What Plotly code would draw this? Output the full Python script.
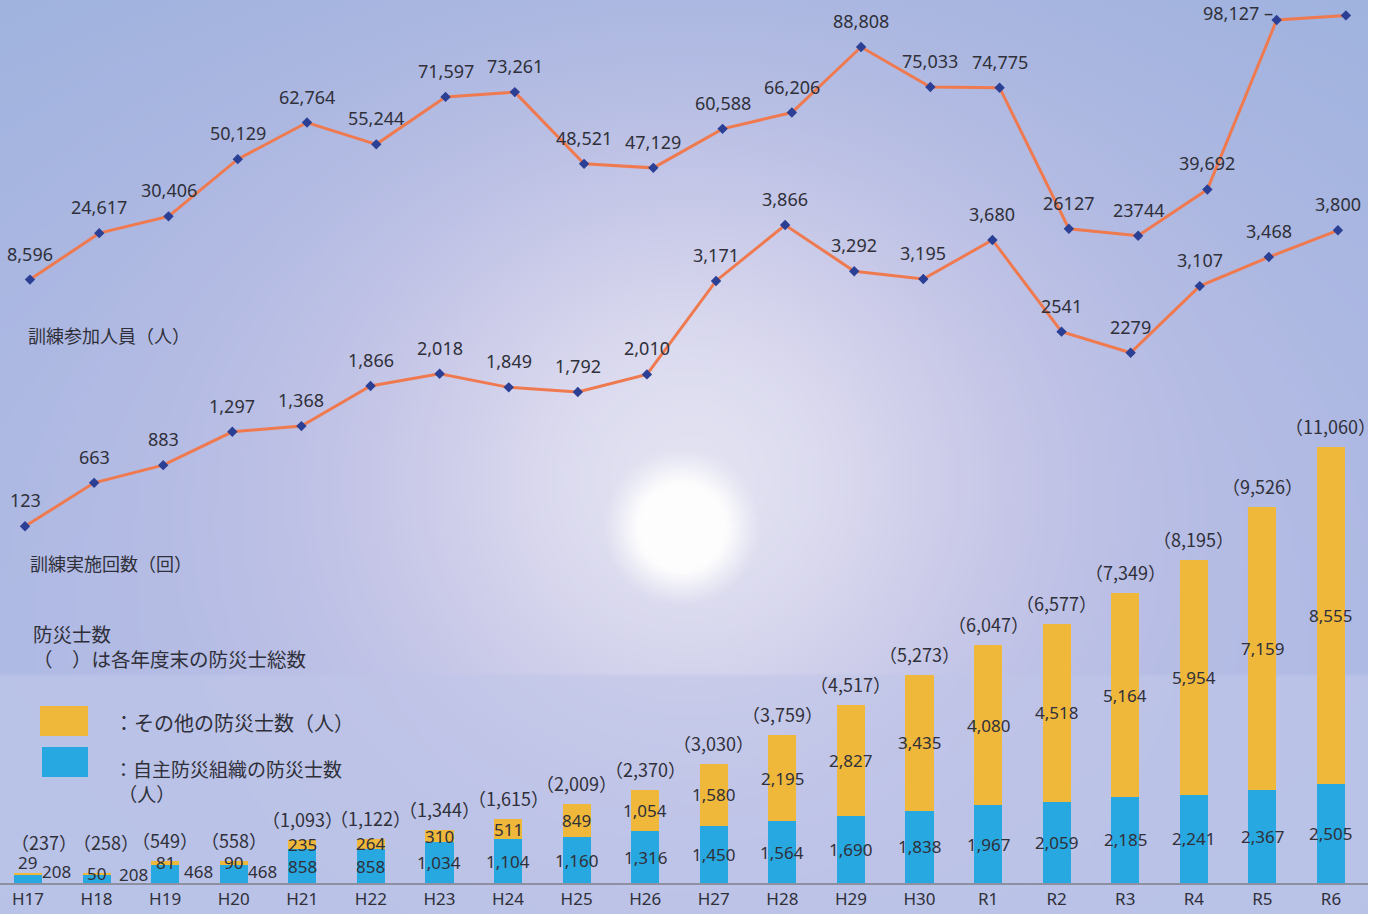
import base64
import struct
import zlib

import numpy as np
import plotly.graph_objects as go

# ---------------- data ----------------
categories = ["H17", "H18", "H19", "H20", "H21", "H22", "H23", "H24", "H25", "H26",
              "H27", "H28", "H29", "H30", "R1", "R2", "R3", "R4", "R5", "R6"]
jishu_bousaishi = [208, 208, 468, 468, 858, 858, 1034, 1104, 1160, 1316,
                   1450, 1564, 1690, 1838, 1967, 2059, 2185, 2241, 2367, 2505]
sonota_bousaishi = [29, 50, 81, 90, 235, 264, 310, 511, 849, 1054,
                    1580, 2195, 2827, 3435, 4080, 4518, 5164, 5954, 7159, 8555]
bousaishi_total = [237, 258, 549, 558, 1093, 1122, 1344, 1615, 2009, 2370,
                   3030, 3759, 4517, 5273, 6047, 6577, 7349, 8195, 9526, 11060]
kunren_sanka = [8596, 24617, 30406, 50129, 62764, 55244, 71597, 73261, 48521, 47129,
                60588, 66206, 88808, 75033, 74775, 26127, 23744, 39692, 98127, 99700]
kunren_kaisu = [123, 663, 883, 1297, 1368, 1866, 2018, 1849, 1792, 2010,
                3171, 3866, 3292, 3195, 3680, 2541, 2279, 3107, 3468, 3800]
no_comma_idx = {15, 16}        # values printed without thousands separator
unlabeled_sanka_idx = {19}     # last point has no printed value

# ---------------- style ----------------
W, H = 1386, 914
PLOT_W, PLOT_B = 1368, 883
YELLOW = "#efb83a"
BLUE = "#28a8e0"
LINE = "#f07a50"
MARK = "#2b3f95"
TXT = "#30303a"
NUM_FONT = "Noto Sans, Noto Sans CJK JP, sans-serif"
JP_FONT = "Noto Sans CJK JP, Noto Sans, sans-serif"


def px(x):
    return x / PLOT_W


def py(y):
    return (PLOT_B - y) / PLOT_B


def fmt(v, i):
    return str(v) if i in no_comma_idx else f"{v:,}"


# ---------------- background image (sky with sun) ----------------
def make_bg():
    w, h = 342, 229
    X = (np.arange(w) + 0.5) * PLOT_W / w
    Y = (np.arange(h) + 0.5) * H / h
    XX, YY = np.meshgrid(X, Y)
    top = np.array([156, 177, 222], float)
    mid = np.array([168, 184, 228], float)
    low = np.array([184, 195, 232], float)
    t = np.clip(YY / 670.0, 0, 1)[..., None]
    base = top + (mid - top) * t
    below = (YY > 674)[..., None]
    base = np.where(below, low, base)
    # outer lavender halo
    r2 = ((XX - 690) / 700) ** 2 + ((YY - 470) / 520) ** 2
    h1 = np.exp(-r2 * 1.3)[..., None]
    h1 = np.where(below, h1 * 0.6, h1)
    col = base * (1 - h1) + np.array([198, 194, 230.0]) * h1
    # inner light glow
    r2 = ((XX - 690) / 320) ** 2 + ((YY - 480) / 320) ** 2
    h2 = np.exp(-r2 * 1.5)[..., None]
    h2 = np.where(below, h2 * 0.5, h2)
    col = col * (1 - h2) + np.array([226, 226, 242.0]) * h2
    # sun core
    r = np.hypot(XX - 682, YY - 527)
    h3 = (np.clip((80 - r) / 35, 0, 1) ** 1.2)[..., None]
    col = col * (1 - h3) + np.array([253, 253, 254.0]) * h3
    arr = np.clip(col, 0, 255).astype(np.uint8)
    raw = b"".join(b"\x00" + arr[yy].tobytes() for yy in range(h))

    def chunk(tag, data):
        c = struct.pack(">I", len(data)) + tag + data
        return c + struct.pack(">I", zlib.crc32(tag + data) & 0xFFFFFFFF)

    png = (b"\x89PNG\r\n\x1a\n"
           + chunk(b"IHDR", struct.pack(">IIBBBBB", w, h, 8, 2, 0, 0, 0))
           + chunk(b"IDAT", zlib.compress(raw, 9))
           + chunk(b"IEND", b""))
    return "data:image/png;base64," + base64.b64encode(png).decode()


fig = go.Figure()

# stacked bars
fig.add_trace(go.Bar(x=categories, y=jishu_bousaishi, marker=dict(color=BLUE, line_width=0),
                     width=0.41, name="自主防災組織の防災士数", hoverinfo="x+y"))
fig.add_trace(go.Bar(x=categories, y=sonota_bousaishi, marker=dict(color=YELLOW, line_width=0),
                     width=0.41, name="その他の防災士数", hoverinfo="x+y"))

# lines
fig.add_trace(go.Scatter(x=categories, y=kunren_sanka, xaxis="x2", yaxis="y2",
                         mode="lines+markers", line=dict(color=LINE, width=3),
                         marker=dict(symbol="diamond", size=8, color=MARK),
                         name="訓練参加人員（人）"))
fig.add_trace(go.Scatter(x=categories, y=kunren_kaisu, xaxis="x3", yaxis="y3",
                         mode="lines+markers", line=dict(color=LINE, width=3),
                         marker=dict(symbol="diamond", size=8, color=MARK),
                         name="訓練実施回数（回）"))

ann = []
# line labels
for i, (c, v) in enumerate(zip(categories, kunren_sanka)):
    if i in unlabeled_sanka_idx:
        continue
    if i == 18:
        ann.append(dict(x=c, y=v, xref="x2", yref="y2", text=fmt(v, i) + " –", showarrow=False,
                        xanchor="right", yanchor="middle", xshift=-2, yshift=7,
                        font=dict(size=18, color=TXT, family=NUM_FONT)))
    else:
        ann.append(dict(x=c, y=v, xref="x2", yref="y2", text=fmt(v, i), showarrow=False,
                        yanchor="middle", yshift=26,
                        font=dict(size=18, color=TXT, family=NUM_FONT)))
for i, (c, v) in enumerate(zip(categories, kunren_kaisu)):
    ann.append(dict(x=c, y=v, xref="x3", yref="y3", text=fmt(v, i), showarrow=False,
                    yanchor="middle", yshift=26,
                    font=dict(size=18, color=TXT, family=NUM_FONT)))

# bar labels
total_shift = {0: (16, 11), 1: (9, 10)}
yellow_shift = {0: 12}
blue_offsets = {0: (29, 7), 1: (37, 4), 2: (33, 2), 3: (29, 2)}
for i, c in enumerate(categories):
    b, s, t = jishu_bousaishi[i], sonota_bousaishi[i], bousaishi_total[i]
    tx, ty = total_shift.get(i, (0, 0))
    ann.append(dict(x=c, y=t, xref="x", yref="y", text=f"（{t:,}）", showarrow=False,
                    yanchor="middle", xshift=tx, yshift=21 + ty,
                    font=dict(size=18, color=TXT, family=JP_FONT)))
    ann.append(dict(x=c, y=b + s / 2, xref="x", yref="y", text=f"{s:,}", showarrow=False,
                    yanchor="middle", yshift=yellow_shift.get(i, 0),
                    font=dict(size=17, color=TXT, family=NUM_FONT)))
    dx, dy = blue_offsets.get(i, (0, 0))
    ann.append(dict(x=c, y=b / 2, xref="x", yref="y", text=f"{b:,}", showarrow=False,
                    yanchor="middle", xshift=dx, yshift=dy,
                    font=dict(size=17, color=TXT, family=NUM_FONT)))


# static texts
def txt(x, y, s, size):
    return dict(x=px(x), y=py(y), xref="paper", yref="paper", text=s, showarrow=False,
                xanchor="left", yanchor="middle", align="left",
                font=dict(size=size, color=TXT, family=JP_FONT))


ann += [
    txt(26, 335, "訓練参加人員（人）", 18),
    txt(28, 563, "訓練実施回数（回）", 18),
    txt(31, 646, "防災士数<br>（　）は各年度末の防災士総数", 19.5),
    txt(112, 722, "：その他の防災士数（人）", 20),
    txt(112, 781, "：自主防災組織の防災士数<br>&nbsp;（人）", 19),
]

shapes = [
    dict(type="rect", xref="paper", yref="paper", x0=px(40), x1=px(88), y0=py(736), y1=py(706),
         fillcolor=YELLOW, line_width=0),
    dict(type="rect", xref="paper", yref="paper", x0=px(42), x1=px(88), y0=py(777), y1=py(747),
         fillcolor=BLUE, line_width=0),
]

hidden = dict(visible=False, showgrid=False, zeroline=False, fixedrange=True)
fig.update_layout(
    width=W, height=H,
    margin=dict(l=0, r=W - PLOT_W, t=0, b=H - PLOT_B),
    paper_bgcolor="white",
    plot_bgcolor="rgba(0,0,0,0)",
    showlegend=False,
    barmode="stack",
    xaxis=dict(type="category", range=[-0.408, 19.54], showgrid=False, zeroline=False,
               showline=True, linecolor="#8d90a0", linewidth=1.5, ticks="",
               tickfont=dict(size=17, color=TXT, family=NUM_FONT)),
    xaxis2=dict(type="category", overlaying="x", range=[-0.433, 19.319], **hidden),
    xaxis3=dict(type="category", overlaying="x", range=[-0.362, 19.435], **hidden),
    yaxis=dict(range=[0, 22399], **hidden),
    yaxis2=dict(overlaying="y", range=[-199468, 105015], **hidden),
    yaxis3=dict(overlaying="y", range=[-4308, 6661], **hidden),
    annotations=ann,
    shapes=shapes,
    images=[dict(source=make_bg(), xref="paper", yref="paper", x=0, y=1,
                 sizex=1, sizey=H / PLOT_B, sizing="stretch", xanchor="left", yanchor="top",
                 layer="below")],
)

fig.write_html("out.html")
